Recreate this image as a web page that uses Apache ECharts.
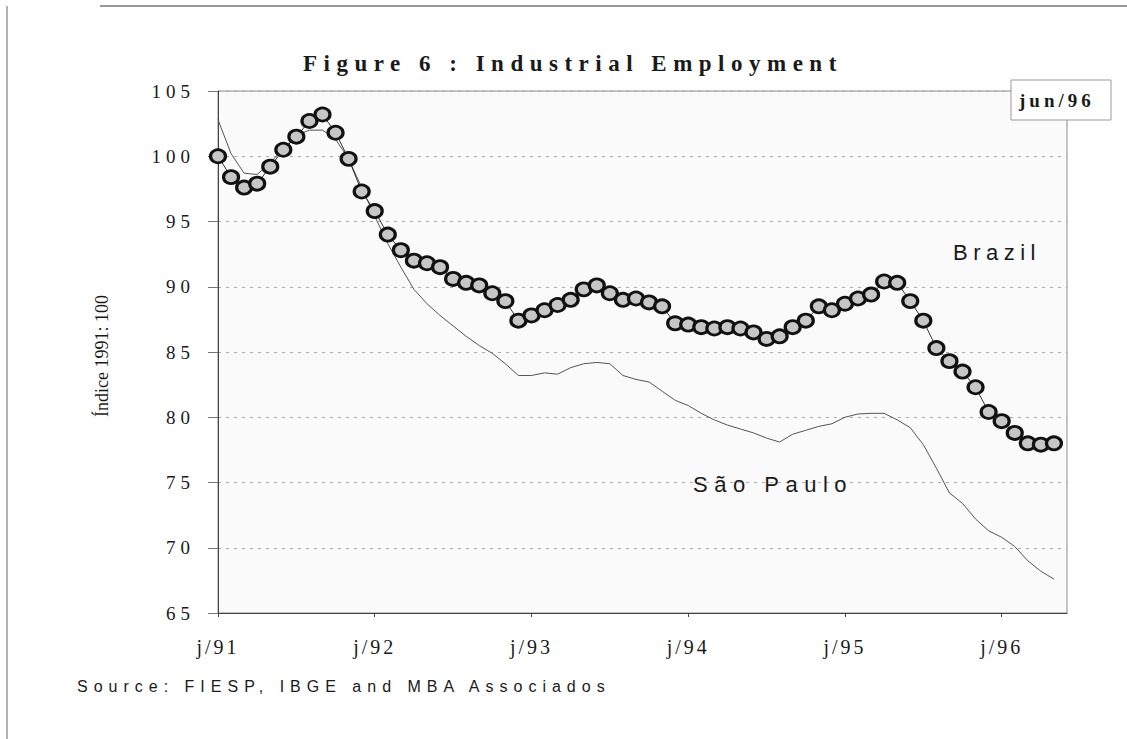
<!DOCTYPE html>
<html>
<head>
<meta charset="utf-8">
<script src="https://cdn.jsdelivr.net/npm/echarts@6/dist/echarts.min.js"></script>
<style>
  html, body { margin: 0; padding: 0; background: #ffffff; }
  #chart { width: 1127px; height: 739px; }
</style>
</head>
<body>
<div id="chart"></div>
<script>
// ---- data ----
const months = [
  'jan/91','feb/91','mar/91','apr/91','may/91','jun/91','jul/91','aug/91','sep/91','oct/91','nov/91','dec/91',
  'jan/92','feb/92','mar/92','apr/92','may/92','jun/92','jul/92','aug/92','sep/92','oct/92','nov/92','dec/92',
  'jan/93','feb/93','mar/93','apr/93','may/93','jun/93','jul/93','aug/93','sep/93','oct/93','nov/93','dec/93',
  'jan/94','feb/94','mar/94','apr/94','may/94','jun/94','jul/94','aug/94','sep/94','oct/94','nov/94','dec/94',
  'jan/95','feb/95','mar/95','apr/95','may/95','jun/95','jul/95','aug/95','sep/95','oct/95','nov/95','dec/95',
  'jan/96','feb/96','mar/96','apr/96','may/96','jun/96'
];
const brazil = [
  100.0, 98.4, 97.6, 97.9, 99.2, 100.5, 101.5, 102.7, 103.2, 101.8, 99.8, 97.3,
  95.8, 94.0, 92.8, 92.0, 91.8, 91.5, 90.6, 90.3, 90.1, 89.5, 88.9, 87.4,
  87.8, 88.2, 88.6, 89.0, 89.8, 90.1, 89.5, 89.0, 89.1, 88.8, 88.5, 87.2,
  87.1, 86.9, 86.8, 86.9, 86.8, 86.5, 86.0, 86.2, 86.9, 87.4, 88.5, 88.2,
  88.7, 89.1, 89.4, 90.4, 90.3, 88.9, 87.4, 85.3, 84.3, 83.5, 82.3, 80.4,
  79.7, 78.8, 78.0, 77.9, 78.0, null
];
const saoPaulo = [
  102.8, 100.2, 98.7, 98.6, 99.5, 100.6, 101.6, 102.0, 102.0, 101.3, 99.8, 97.6,
  95.4, 93.3, 91.5, 89.8, 88.7, 87.8, 87.0, 86.2, 85.5, 84.9, 84.1, 83.2,
  83.2, 83.4, 83.3, 83.8, 84.1, 84.2, 84.1, 83.2, 82.9, 82.7, 82.0, 81.3,
  80.9, 80.3, 79.8, 79.4, 79.1, 78.8, 78.4, 78.1, 78.7, 79.0, 79.3, 79.5,
  80.0, 80.25, 80.3, 80.3, 79.8, 79.2, 77.9, 76.1, 74.2, 73.4, 72.2, 71.3,
  70.8, 70.1, 69.0, 68.2, 67.6, null
];
const yTicks = { min: 65, max: 105, step: 5 };
const titleText = 'Figure 6 : Industrial Employment';
const yName = 'Índice 1991: 100';
const sourceText = 'Source: FIESP, IBGE and MBA Associados';
const dateTag = 'jun/96';

const serif = '"Liberation Serif", "DejaVu Serif", serif';
const sans = '"Liberation Sans", Arial, sans-serif';

const chart = echarts.init(document.getElementById('chart'), null, { renderer: 'svg' });

chart.setOption({
  animation: false,
  backgroundColor: '#ffffff',
  title: {
    text: titleText,
    left: 298, top: 47,
    textStyle: { fontFamily: serif, fontSize: 23, fontWeight: 'bold', color: '#1a1a1a' }
  },
  grid: {
    left: 218, right: 60, top: 91, bottom: 126,
    show: true, backgroundColor: '#fafafa', borderColor: '#8a8a8a', borderWidth: 1
  },
  xAxis: {
    type: 'category',
    data: months,
    boundaryGap: false,
    axisLine: { lineStyle: { color: '#444', width: 1 } },
    axisTick: { interval: 11, length: 4, lineStyle: { color: '#444' } },
    axisLabel: {
      interval: 11, margin: 24,
      formatter: v => v[0] + v.slice(3),
      fontFamily: serif, fontSize: 20, color: '#1a1a1a'
    },
    splitLine: { show: false }
  },
  yAxis: {
    type: 'value',
    min: yTicks.min, max: yTicks.max, interval: yTicks.step,
    axisLine: { show: true, lineStyle: { color: '#444', width: 1 } },
    axisTick: { show: true, length: 10, lineStyle: { color: '#777' } },
    axisLabel: { margin: 23, fontFamily: serif, fontSize: 19, color: '#1a1a1a' },
    splitLine: { show: true, lineStyle: { color: '#aaa', type: [3, 5], width: 1 } }
  },
  series: [
    {
      name: 'São Paulo',
      type: 'line',
      data: saoPaulo,
      showSymbol: false,
      symbol: 'none',
      z: 2,
      lineStyle: { color: '#555', width: 1 }
    },
    {
      name: 'Brazil',
      type: 'line',
      data: brazil,
      symbol: 'circle',
      showAllSymbol: true,
      symbolSize: [15, 13],
      z: 3,
      lineStyle: { color: '#333', width: 1 },
      itemStyle: { color: '#c6c6c6', borderColor: '#111', borderWidth: 3 }
    }
  ],
  graphic: [
    { type: 'line', shape: { x1: 100, y1: 6, x2: 1127, y2: 6 }, style: { stroke: '#777', lineWidth: 1.5 } },
    { type: 'line', shape: { x1: 7, y1: 6, x2: 7, y2: 739 }, style: { stroke: '#999', lineWidth: 1.5 } },
    { type: 'rect', shape: { x: 1011, y: 80, width: 100, height: 40 }, style: { fill: '#ffffff', stroke: '#999', lineWidth: 1 }, z: 10 },
    { type: 'text', x: 1019, y: 100, z: 11, style: { text: dateTag, fontFamily: serif, fontSize: 19, fontWeight: 'bold', fill: '#1a1a1a', textAlign: 'left', textVerticalAlign: 'middle' } },
    { type: 'text', x: 102, y: 356, rotation: Math.PI / 2, style: { text: yName, fontFamily: serif, fontSize: 18, fill: '#1a1a1a', textAlign: 'center', textVerticalAlign: 'middle' } },
    { type: 'text', x: 953, y: 252, z: 11, style: { text: 'Brazil', fontFamily: sans, fontSize: 22, fill: '#1a1a1a', textAlign: 'left', textVerticalAlign: 'middle' } },
    { type: 'text', x: 693, y: 484, z: 11, style: { text: 'São Paulo', fontFamily: sans, fontSize: 22, fill: '#1a1a1a', textAlign: 'left', textVerticalAlign: 'middle' } },
    { type: 'text', x: 77, y: 686, style: { text: sourceText, fontFamily: sans, fontSize: 16, fill: '#1a1a1a', textAlign: 'left', textVerticalAlign: 'middle' } }
  ]
});

function applySpacing() {
  document.querySelectorAll('#chart svg text').forEach(t => {
    const s = t.textContent;
    let ls = 0;
    if (s === titleText) ls = 6.5;
    else if (/^\d+$/.test(s)) ls = 5;
    else if (/^j\/\d\d$/.test(s)) ls = 3;
    else if (s === 'Brazil') ls = 5.5;
    else if (s === 'São Paulo') ls = 6.5;
    else if (s === sourceText) ls = 6;
    else if (s === dateTag) ls = 4;
    if (ls) t.style.letterSpacing = ls + 'px';
  });
}
chart.on('finished', applySpacing);
applySpacing();
</script>
</body>
</html>
